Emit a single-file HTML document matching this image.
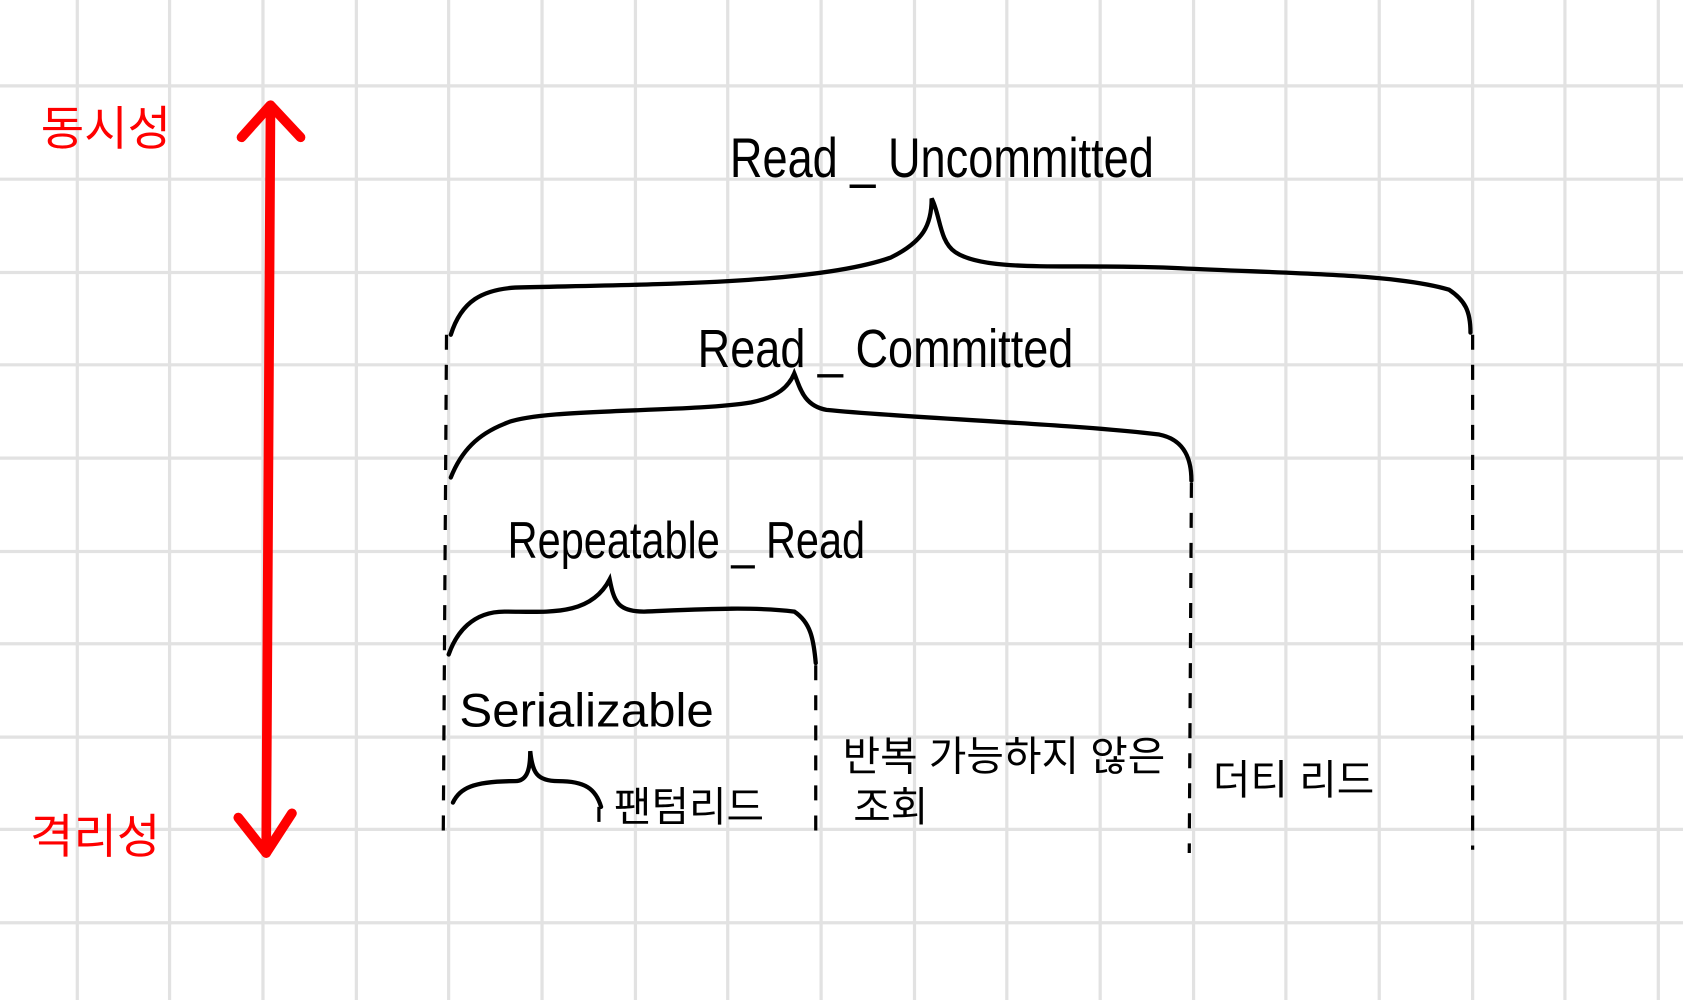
<!DOCTYPE html>
<html><head><meta charset="utf-8"><style>
html,body{margin:0;padding:0;background:#fff;width:1683px;height:1000px;overflow:hidden}
svg{display:block}
text{font-family:"Liberation Sans","Noto Sans CJK KR",sans-serif}
</style></head><body>
<svg width="1683" height="1000" viewBox="0 0 1568 932" preserveAspectRatio="none">
<g stroke="#e2e2e2" stroke-width="3">
<line x1="72" y1="0" x2="72" y2="932"/><line x1="158" y1="0" x2="158" y2="932"/><line x1="245" y1="0" x2="245" y2="932"/><line x1="332" y1="0" x2="332" y2="932"/><line x1="418" y1="0" x2="418" y2="932"/><line x1="505" y1="0" x2="505" y2="932"/><line x1="592" y1="0" x2="592" y2="932"/><line x1="678" y1="0" x2="678" y2="932"/><line x1="765" y1="0" x2="765" y2="932"/><line x1="852" y1="0" x2="852" y2="932"/><line x1="938" y1="0" x2="938" y2="932"/><line x1="1025" y1="0" x2="1025" y2="932"/><line x1="1112" y1="0" x2="1112" y2="932"/><line x1="1198" y1="0" x2="1198" y2="932"/><line x1="1285" y1="0" x2="1285" y2="932"/><line x1="1372" y1="0" x2="1372" y2="932"/><line x1="1458" y1="0" x2="1458" y2="932"/><line x1="1545" y1="0" x2="1545" y2="932"/>
<line x1="0" y1="80" x2="1568" y2="80"/><line x1="0" y1="167" x2="1568" y2="167"/><line x1="0" y1="254" x2="1568" y2="254"/><line x1="0" y1="340" x2="1568" y2="340"/><line x1="0" y1="427" x2="1568" y2="427"/><line x1="0" y1="514" x2="1568" y2="514"/><line x1="0" y1="600" x2="1568" y2="600"/><line x1="0" y1="687" x2="1568" y2="687"/><line x1="0" y1="773" x2="1568" y2="773"/><line x1="0" y1="860" x2="1568" y2="860"/>
</g>
<g stroke="#f00" stroke-width="9" fill="none" stroke-linecap="round" stroke-linejoin="round">
<path d="M252 100 L248 795"/><path d="M225 128 L252 98 L280 128"/><path d="M222 762 L248 795 L272 758"/>
</g>
<g fill="#f00" font-size="44">
<text x="38" y="135">동시성</text><text x="28" y="795">격리성</text>
</g>
<g stroke="#000" stroke-width="4" fill="none" stroke-linecap="round">
<path d="M420 312 C430 280 450 270 480 268 C600 265 760 265 830 240 C860 225 868 210 868 185 C876 200 875 225 890 235 C920 255 1000 245 1100 250 C1200 255 1300 255 1350 270 C1365 280 1370 290 1370 310"/>
<path d="M420 445 C430 420 445 405 470 395 C500 380 640 385 700 375 C725 370 735 360 740 348 C745 360 748 378 770 382 C850 390 1000 395 1080 405 C1105 410 1110 430 1110 448"/>
<path d="M418 610 C425 590 440 570 470 570 C510 570 550 575 568 540 C572 560 575 570 600 570 C650 568 700 565 740 570 C755 580 758 595 760 618"/>
<path d="M422 748 C428 735 440 728 480 728 C492 728 494 715 494 700 C496 720 500 728 520 728 C545 728 555 735 560 752"/>
</g>
<g stroke="#000" stroke-width="3" fill="none" stroke-dasharray="14 14">
<path d="M416 312 L413 775"/><path d="M1372 312 L1372 792"/><path d="M1110 450 L1108 795"/><path d="M760 620 L760 775"/><path d="M558 752 L558 775"/>
</g>
<g fill="#000" font-size="46">
<text x="680" y="165" font-size="52" textLength="395" lengthAdjust="spacingAndGlyphs">Read _ Uncommitted</text>
<text x="650" y="342" font-size="50" textLength="350" lengthAdjust="spacingAndGlyphs">Read _ Committed</text>
<text x="473" y="520" font-size="48" textLength="333" lengthAdjust="spacingAndGlyphs">Repeatable _ Read</text>
<text x="428" y="677" font-size="44" textLength="237" lengthAdjust="spacingAndGlyphs">Serializable</text>
<text x="572" y="765" font-size="38">팬텀리드</text>
<text x="785" y="718" font-size="38">반복 가능하지 않은</text>
<text x="795" y="765" font-size="38">조회</text>
<text x="1130" y="740" font-size="38">더티 리드</text>
</g>
</svg>
</body></html>
